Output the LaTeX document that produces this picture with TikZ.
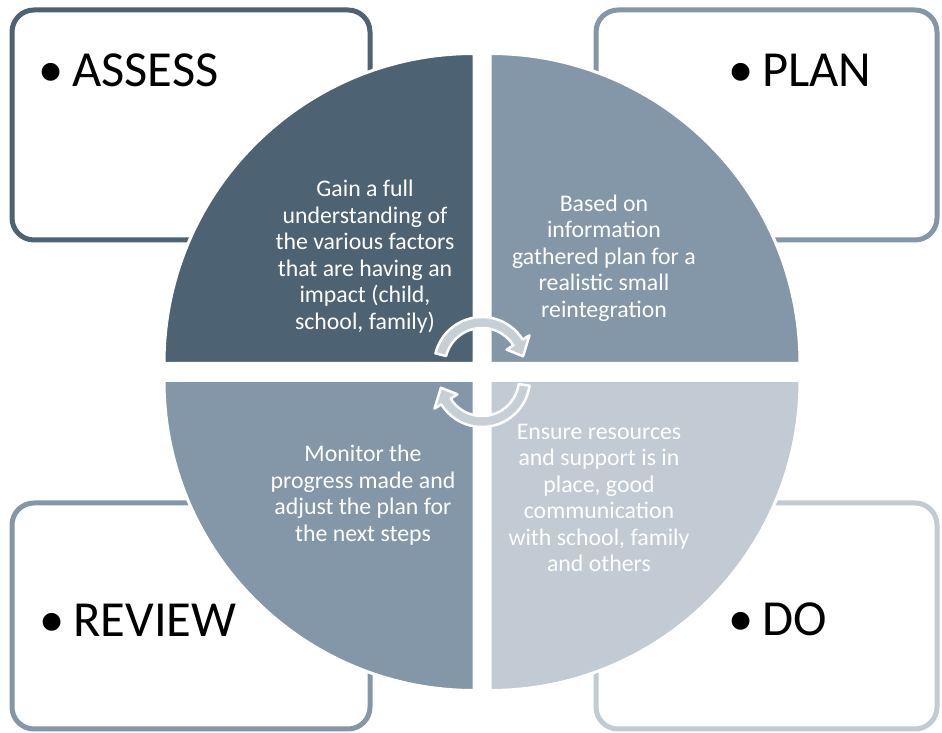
\documentclass[tikz,border=0pt]{standalone}
\usepackage{fontspec}
\setmainfont{Carlito}
\definecolor{assesscol}{HTML}{4D6272}
\definecolor{plancol}{HTML}{8497A8}
\definecolor{docol}{HTML}{C2CBD3}
\definecolor{turncol}{HTML}{C6CED6}

\begin{document}
\begin{tikzpicture}[x=1pt, y=1pt]

\tikzset{box/.style = {draw=#1, line width=5pt, rounded corners=22pt, fill=white, inner sep=0pt}}
\tikzset{quarter/.style = {fill=#1, draw=white, line width=3pt}}
\tikzset{steptext/.style = {text=white, align=center, font=\fontsize{23.8}{26.5}\selectfont}}
\tikzset{stage/.style = {anchor=base west, inner sep=0pt, font=\fontsize{50.5}{60}\selectfont}}
\tikzset{turn/.style = {fill=turncol, draw=white, line width=2.5pt, line join=round}}

\useasboundingbox (0,0) rectangle (942,733);

% boxes
\node[box=assesscol, minimum width=358, minimum height=230] (assessbox) at (191,608) {};
\node[box=plancol, minimum width=341, minimum height=230] (planbox) at (766.5,608) {};
\node[box=plancol, minimum width=358, minimum height=226] (reviewbox) at (191,117) {};
\node[box=docol, minimum width=341, minimum height=226] (dobox) at (766.5,117) {};

\node[stage] (assess) at (38,646) {•\hspace{9pt}ASSESS};
\node[stage] (plan) at (728,646) {•\hspace{9pt}PLAN};
\node[stage] (review) at (39,96) {•\hspace{9pt}REVIEW};
\node[stage] (do) at (728,97) {•\hspace{9pt}DO};

% circle
\draw[quarter=assesscol] (474,369.5) -- ++(180:310) arc[start angle=180, end angle=90, radius=310pt] -- cycle;
\draw[quarter=plancol] (490,369.5) -- ++(90:310) arc[start angle=90, end angle=0, radius=310pt] -- cycle;
\draw[quarter=plancol] (474,352.5) -- ++(270:310) arc[start angle=270, end angle=180, radius=310pt] -- cycle;
\draw[quarter=docol] (490,352.5) -- ++(0:310) arc[start angle=0, end angle=-90, radius=310pt] -- cycle;

\node[steptext] (assesstxt) at (365,476.5) {Gain a full\\understanding of\\the various factors\\that are having an\\impact (child,\\school, family)};
\node[steptext] (plantxt) at (604,475) {Based on\\information\\gathered plan for a\\realistic small\\reintegration};
\node[steptext] (reviewtxt) at (363,238) {Monitor the\\progress made and\\adjust the plan for\\the next steps};
\node[steptext] (dotxt) at (599,235) {Ensure resources\\and support is in\\place, good\\communication\\with school, family\\and others};

% turning arrows
\begin{scope}[shift={(482,368)}]
\draw[turn] (166:48) arc[start angle=166, end angle=32, radius=48pt] -- (32:56) -- (12:42) -- (32:29) -- (32:37) arc[start angle=32, end angle=166, radius=37pt] -- cycle;
\end{scope}
\begin{scope}[shift={(482,354)}]
\draw[turn] (-8:48) arc[start angle=-8, end angle=-148, radius=48pt] -- (-148:56) -- (-168:42) -- (-148:29) -- (-148:37) arc[start angle=-148, end angle=-8, radius=37pt] -- cycle;
\end{scope}

\end{tikzpicture}
\end{document}
